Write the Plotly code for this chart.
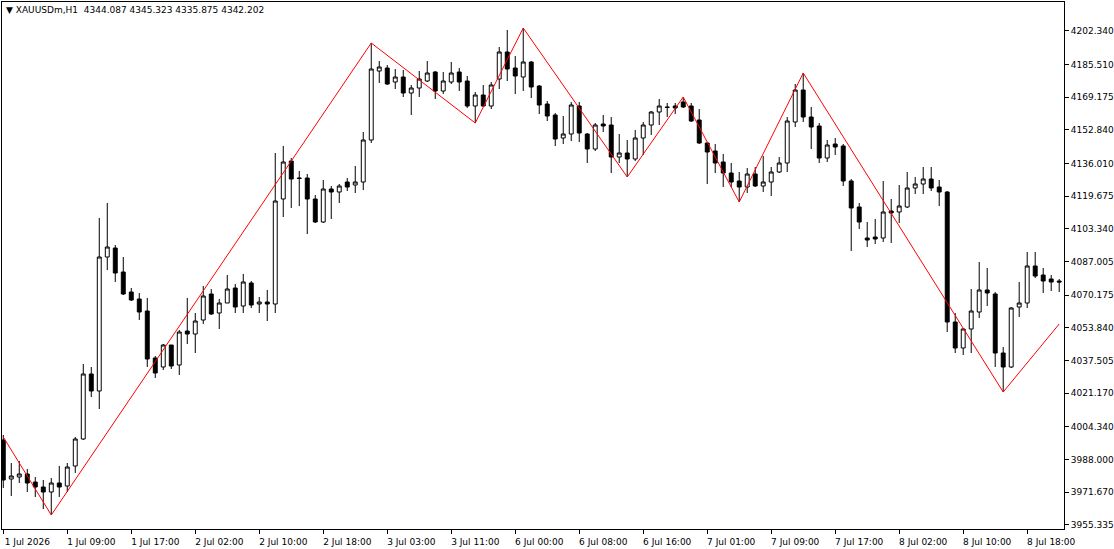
import plotly.graph_objects as go

# hourly bars, XAUUSDm H1
opens = [3997.8, 3978.3, 3979.3, 3980.8, 3976.8, 3974.3, 3971.8, 3976.3, 3974.8, 3984.8,
         3998.3, 4030.8, 4022.3, 4089.3, 4093.8, 4081.8, 4071.8, 4068.3, 4062.3, 4038.8,
         4034.3, 4045.3, 4035.3, 4052.3, 4050.8, 4057.8, 4070.8, 4061.3, 4066.3, 4073.8,
         4064.8, 4076.3, 4065.8, 4066.8, 4065.8, 4118.3, 4137.3, 4128.8, 4128.8, 4118.3,
         4106.8, 4123.3, 4121.8, 4126.8, 4125.3, 4126.8, 4147.8, 4182.3, 4183.8, 4176.8,
         4179.3, 4171.3, 4173.8, 4177.3, 4181.8, 4172.3, 4176.8, 4181.8, 4177.3, 4164.8,
         4170.3, 4164.8, 4178.3, 4191.8, 4183.8, 4179.3, 4186.8, 4174.8, 4165.8, 4160.3,
         4148.8, 4150.8, 4164.8, 4150.8, 4143.3, 4155.8, 4155.3, 4139.3, 4141.3, 4138.3,
         4148.8, 4155.3, 4161.8, 4164.3, 4164.8, 4166.8, 4164.8, 4157.8, 4146.3, 4142.3,
         4136.8, 4131.3, 4127.3, 4124.3, 4130.8, 4124.8, 4126.8, 4131.8, 4136.3, 4156.8,
         4172.8, 4159.3, 4154.8, 4138.8, 4145.8, 4144.8, 4127.3, 4114.3, 4098.8, 4099.3,
         4098.8, 4112.3, 4111.8, 4114.3, 4123.8, 4125.8, 4128.3, 4124.3, 4121.8, 4056.8,
         4043.8, 4053.3, 4061.8, 4072.8, 4070.8, 4041.3, 4034.3, 4064.3, 4066.3, 4084.8,
         4080.3, 4078.3, 4077.3]
highs = [4000.3, 3986.3, 3987.3, 3983.3, 3979.3, 3977.8, 3978.8, 3984.8, 3986.3, 3999.3,
         4035.8, 4034.3, 4108.8, 4116.3, 4095.3, 4089.3, 4073.8, 4071.3, 4068.8, 4039.8,
         4045.8, 4045.3, 4052.8, 4068.8, 4061.3, 4074.8, 4073.3, 4068.3, 4080.3, 4075.8,
         4080.8, 4077.3, 4069.3, 4072.8, 4141.3, 4144.8, 4138.8, 4132.3, 4130.8, 4120.3,
         4127.8, 4124.8, 4125.8, 4128.8, 4134.8, 4151.8, 4196.3, 4187.3, 4185.3, 4183.3,
         4182.8, 4175.3, 4182.3, 4187.3, 4182.3, 4181.8, 4186.8, 4183.8, 4179.8, 4171.8,
         4175.3, 4176.8, 4194.3, 4202.8, 4189.8, 4203.8, 4187.3, 4175.3, 4167.3, 4161.3,
         4159.8, 4166.8, 4166.8, 4151.3, 4156.3, 4160.3, 4159.3, 4150.8, 4147.8, 4152.8,
         4156.8, 4162.3, 4168.3, 4166.3, 4166.3, 4169.3, 4166.3, 4163.3, 4146.8, 4145.8,
         4140.8, 4136.3, 4131.8, 4133.8, 4134.3, 4139.8, 4134.3, 4139.3, 4159.3, 4175.8,
         4181.3, 4164.3, 4156.3, 4147.8, 4148.8, 4145.8, 4128.3, 4116.3, 4106.8, 4108.3,
         4127.3, 4118.3, 4125.3, 4131.8, 4129.3, 4134.3, 4134.3, 4127.8, 4122.3, 4061.3,
         4053.8, 4073.3, 4086.8, 4083.8, 4071.8, 4044.3, 4064.3, 4076.8, 4091.8, 4091.8,
         4083.8, 4080.3, 4078.3]
lows = [3973.8, 3969.8, 3976.3, 3971.8, 3969.3, 3963.3, 3960.3, 3969.3, 3971.8, 3981.3,
        3997.8, 4019.3, 4013.3, 4082.8, 4076.8, 4070.3, 4067.3, 4057.8, 4034.3, 4028.8,
        4032.8, 4033.3, 4030.3, 4045.8, 4041.3, 4055.8, 4060.3, 4053.3, 4066.3, 4061.3,
        4061.3, 4063.8, 4061.3, 4057.3, 4061.3, 4109.3, 4113.8, 4114.8, 4100.8, 4106.3,
        4106.3, 4108.3, 4116.3, 4122.3, 4121.3, 4122.8, 4146.3, 4176.3, 4175.3, 4173.3,
        4169.3, 4160.3, 4169.3, 4176.8, 4168.3, 4170.8, 4175.8, 4172.3, 4163.8, 4156.3,
        4164.3, 4163.3, 4173.3, 4177.3, 4170.8, 4172.3, 4168.8, 4160.8, 4157.3, 4144.8,
        4145.8, 4147.3, 4146.8, 4136.3, 4142.3, 4151.8, 4131.3, 4136.3, 4129.3, 4137.3,
        4140.3, 4150.3, 4155.3, 4159.3, 4160.8, 4163.8, 4156.8, 4145.8, 4125.8, 4131.3,
        4124.3, 4124.3, 4116.8, 4121.3, 4124.3, 4121.8, 4119.8, 4131.3, 4131.8, 4154.3,
        4156.8, 4143.3, 4136.3, 4136.8, 4140.3, 4124.8, 4092.3, 4103.3, 4094.3, 4095.8,
        4096.8, 4096.3, 4106.3, 4113.8, 4120.8, 4120.8, 4122.3, 4114.8, 4051.8, 4041.3,
        4040.3, 4041.3, 4058.8, 4064.8, 4034.3, 4021.8, 4033.8, 4059.3, 4063.8, 4078.8,
        4071.3, 4072.3, 4071.8]
closes = [3977.8, 3979.8, 3980.8, 3976.3, 3974.3, 3971.8, 3976.3, 3974.3, 3984.3, 3998.3,
          4030.8, 4022.3, 4089.3, 4094.3, 4081.3, 4070.8, 4067.8, 4061.8, 4038.3, 4031.3,
          4045.3, 4034.8, 4051.8, 4050.8, 4057.3, 4069.8, 4060.8, 4066.3, 4073.3, 4064.3,
          4076.8, 4065.3, 4066.8, 4065.8, 4117.3, 4136.8, 4128.3, 4128.6, 4118.3, 4106.8,
          4123.3, 4121.8, 4124.8, 4124.3, 4126.8, 4147.8, 4183.3, 4184.3, 4175.8, 4179.3,
          4171.3, 4173.8, 4178.3, 4181.3, 4172.3, 4177.3, 4181.3, 4176.8, 4164.8, 4170.3,
          4164.8, 4175.3, 4191.8, 4183.3, 4179.8, 4186.8, 4174.3, 4165.3, 4159.8, 4148.3,
          4150.8, 4165.3, 4151.3, 4143.3, 4155.3, 4154.8, 4139.3, 4141.3, 4138.3, 4148.8,
          4155.3, 4161.8, 4164.8, 4164.1, 4163.8, 4164.3, 4157.3, 4146.3, 4141.8, 4136.3,
          4131.3, 4126.8, 4124.3, 4130.8, 4124.8, 4126.8, 4131.8, 4136.3, 4157.3, 4172.8,
          4159.3, 4154.3, 4138.8, 4145.3, 4144.3, 4127.3, 4113.8, 4106.8, 4097.8, 4098.3,
          4111.8, 4111.3, 4114.8, 4123.8, 4125.8, 4128.3, 4123.8, 4121.8, 4056.8, 4043.8,
          4053.3, 4062.3, 4072.8, 4071.3, 4041.3, 4034.3, 4063.8, 4066.3, 4084.8, 4079.8,
          4077.3, 4076.8, 4076.8]

# zigzag swing points (bar index, price)
zz_bars = [0, 6, 46, 59, 65, 78, 85, 92, 100, 125, 132]
zz_prices = [3999.3, 3960.3, 4196.3, 4156.3, 4203.8, 4129.3, 4169.3, 4116.8, 4181.3, 4021.8, 4055.8]

time_labels = ['1 Jul 2026', '1 Jul 09:00', '1 Jul 17:00', '2 Jul 02:00', '2 Jul 10:00',
               '2 Jul 18:00', '3 Jul 03:00', '3 Jul 11:00', '6 Jul 00:00', '6 Jul 08:00',
               '6 Jul 16:00', '7 Jul 01:00', '7 Jul 09:00', '7 Jul 17:00', '8 Jul 02:00',
               '8 Jul 10:00', '8 Jul 18:00']
price_ticks = [4202.340, 4185.510, 4169.175, 4152.840, 4136.010, 4119.675, 4103.340, 4087.005,
               4070.175, 4053.840, 4037.505, 4021.170, 4004.340, 3988.000, 3971.670, 3955.335]

bars = list(range(len(opens)))

fig = go.Figure()
fig.add_trace(go.Candlestick(
    x=bars, open=opens, high=highs, low=lows, close=closes,
    increasing=dict(line=dict(color='black', width=1), fillcolor='white'),
    decreasing=dict(line=dict(color='black', width=1), fillcolor='black'),
    whiskerwidth=0, showlegend=False, hoverinfo='skip',
))
fig.add_trace(go.Scatter(
    x=zz_bars, y=zz_prices, mode='lines',
    line=dict(color='#ff0000', width=1), showlegend=False, hoverinfo='skip',
))

font = dict(family='DejaVu Sans', size=9, color='black')
fig.update_layout(
    width=1114, height=549,
    margin=dict(l=2, r=50, t=2, b=20),
    paper_bgcolor='white', plot_bgcolor='white',
    font=font,
    xaxis=dict(
        range=[-0.16, 132.6], rangeslider=dict(visible=False), automargin=False,
        tickvals=[8 * i for i in range(len(time_labels))], ticktext=time_labels,
        ticks='outside', ticklen=4, tickcolor='black', ticklabelshift=24,
        showgrid=False, zeroline=False, showline=True, linecolor='black', mirror=True,
    ),
    yaxis=dict(
        side='right', range=[3953.3, 4216.8], automargin=False,
        tickvals=price_ticks, ticktext=['%.3f' % v for v in price_ticks],
        ticks='outside', ticklen=4, tickcolor='black',
        showgrid=False, zeroline=False, showline=True, linecolor='black', mirror=True,
    ),
    annotations=[dict(
        text='\u25bc XAUUSDm,H1  4344.087 4345.323 4335.875 4342.202',
        xref='paper', yref='paper', x=0.002, y=0.998, xanchor='left', yanchor='top',
        showarrow=False, font=dict(family='DejaVu Sans', size=9, color='black'),
    )],
)

# drop the default page margin so the figure sits at the window's corner
fig.write_html('out.html', config={'displayModeBar': False},
               post_script="document.body.style.margin='0';")
